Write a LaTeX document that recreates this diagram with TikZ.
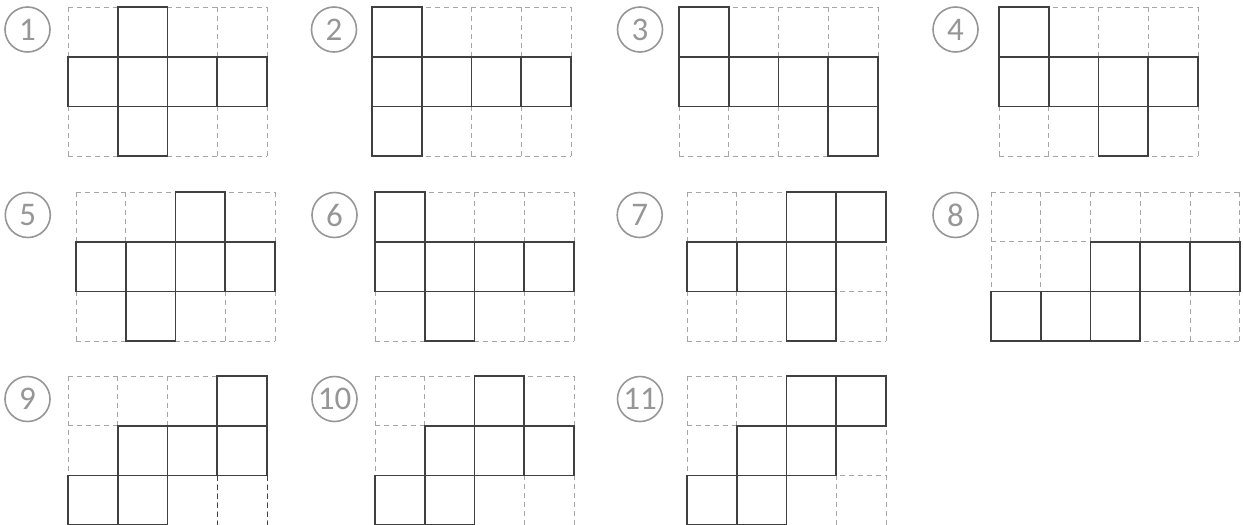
\documentclass[tikz,border=0pt]{standalone}
\usepackage{fontspec}
\setmainfont{Carlito}
\usepackage{tikz}
\usetikzlibrary{positioning}
\definecolor{faceGray}{RGB}{64,64,64}
\definecolor{gridGray}{RGB}{166,166,166}
\definecolor{numGray}{RGB}{150,150,150}
\tikzset{
  gridline/.style  = {draw=gridGray, line width=0.5pt, dash pattern=on 2.5pt off 2pt},
  faceline/.style  = {draw=faceGray, line width=0.8pt},
  numcircle/.style = {circle, draw=numGray, line width=0.8pt, minimum size=22.5pt,
                      inner sep=0pt, text=numGray, font=\fontsize{16.5}{16.5}\selectfont}
}
% one net: origin (pixels), columns, cells as row/col
\newcommand{\cubenet}[4]{%
  \begin{scope}[shift={#1}, x=24.875pt, y=-24.875pt]
    \foreach \i in {0,...,#2} \draw[gridline] (\i,0) -- (\i,3);
    \foreach \j in {0,...,3} \draw[gridline] (0,\j) -- (#2,\j);
    \foreach \r/\c in {#3} \draw[faceline] (\c,\r) rectangle ++(1,1);
    #4
  \end{scope}}

\begin{document}
\begin{tikzpicture}[x=0.5pt, y=-0.5pt]
  \useasboundingbox (0,0) rectangle (1243,525);

  % numbers
  \node[numcircle] (n1)  at (27.5,29.5)  {1};
  \node[numcircle] (n2)  at (334,29.5)   {2};
  \node[numcircle] (n3)  at (640,29.5)   {3};
  \node[numcircle] (n4)  at (955.5,29.5) {4};
  \node[numcircle] (n5)  at (27.8,215)   {5};
  \node[numcircle] (n6)  at (334.5,215)  {6};
  \node[numcircle] (n7)  at (639.7,215)  {7};
  \node[numcircle] (n8)  at (955.5,215)  {8};
  \node[numcircle] (n9)  at (27.5,399)   {9};
  \node[numcircle] (n10) at (334.5,399)  {10};
  \node[numcircle] (n11) at (640,399)    {11};

  % nets
  \cubenet{(68,7)}{4}{0/1, 1/0, 1/1, 1/2, 1/3, 2/1}{}
  \cubenet{(372,7)}{4}{0/0, 1/0, 1/1, 1/2, 1/3, 2/0}{}
  \cubenet{(679,7)}{4}{0/0, 1/0, 1/1, 1/2, 1/3, 2/3}{}
  \cubenet{(999,7)}{4}{0/0, 1/0, 1/1, 1/2, 1/3, 2/2}{}

  \cubenet{(76,192)}{4}{0/2, 1/0, 1/1, 1/2, 1/3, 2/1}{}
  \cubenet{(375,192)}{4}{0/0, 1/0, 1/1, 1/2, 1/3, 2/1}{}
  \cubenet{(687,192)}{4}{0/2, 0/3, 1/0, 1/1, 1/2, 2/2}{}
  \cubenet{(991,192)}{5}{1/2, 1/3, 1/4, 2/0, 2/1, 2/2}{}

  \cubenet{(68,376)}{4}{0/3, 1/1, 1/2, 1/3, 2/0, 2/1}{%
    \draw[gridline, draw=faceGray] (3,2) -- (3,3) (4,2) -- (4,3);}
  \cubenet{(375,376)}{4}{0/2, 1/1, 1/2, 1/3, 2/0, 2/1}{}
  \cubenet{(687,376)}{4}{0/2, 0/3, 1/1, 1/2, 2/0, 2/1}{}
\end{tikzpicture}
\end{document}
